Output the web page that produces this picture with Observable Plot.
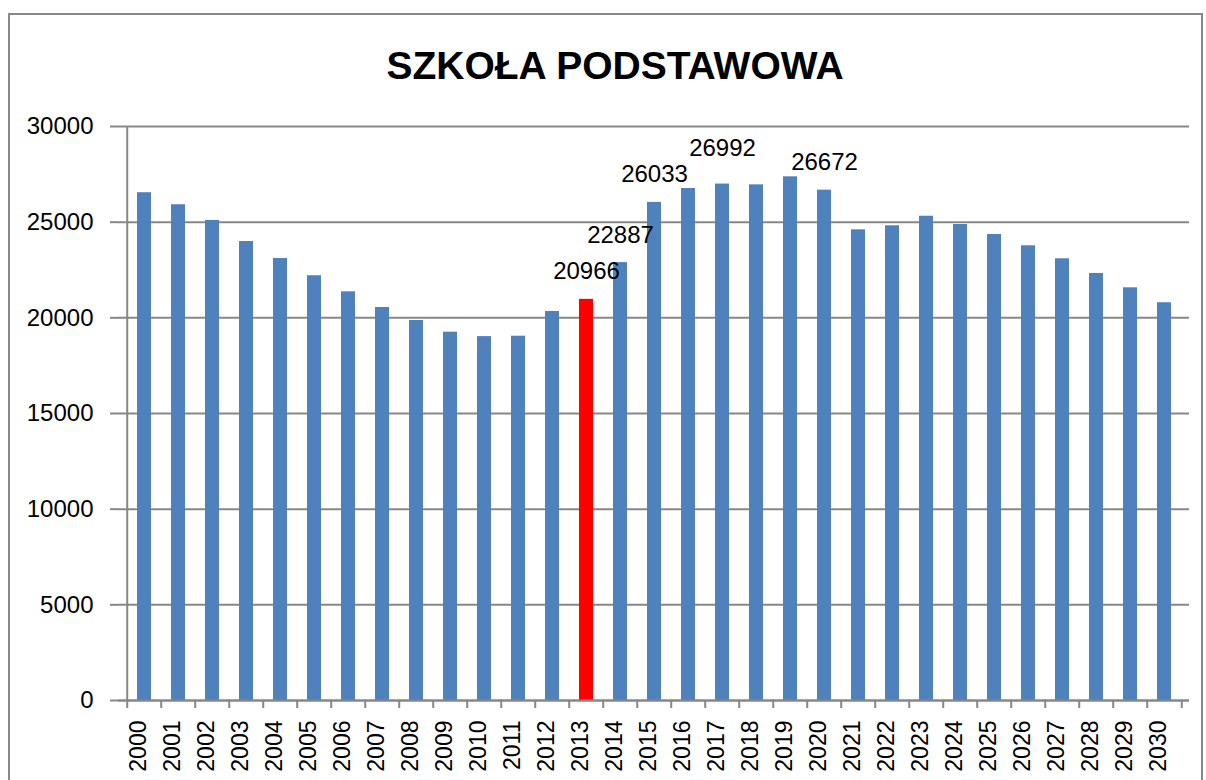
<!DOCTYPE html>
<html><head><meta charset="utf-8">
<script src="https://cdn.jsdelivr.net/npm/d3@7"></script>
<script src="https://cdn.jsdelivr.net/npm/@observablehq/plot@0.6"></script>
<style>
body{margin:0;background:#fff;width:1206px;height:780px;overflow:hidden;position:relative;font-family:"Liberation Sans",Arial,sans-serif}
#frame{position:absolute;left:8px;top:13px;width:1195px;height:900px;border:2px solid #898989;box-sizing:border-box}
#title{position:absolute;left:0;width:1230px;top:46px;text-align:center;font-weight:bold;font-size:39px;line-height:39px;color:#000}
#chart{position:absolute;left:0;top:100px}
</style></head><body>
<div id="frame"></div>
<div id="title">SZKOŁA PODSTAWOWA</div>
<div id="chart"></div>
<script>
const years = [2000,2001,2002,2003,2004,2005,2006,2007,2008,2009,2010,2011,2012,2013,2014,2015,2016,2017,2018,2019,2020,2021,2022,2023,2024,2025,2026,2027,2028,2029,2030];
const values = [26540,25910,25090,23990,23100,22200,21360,20540,19860,19250,19020,19040,20330,20966,22887,26033,26760,26992,26950,27370,26672,24600,24810,25310,24880,24355,23765,23085,22320,21570,20790];
const labelYears = [2013,2014,2015,2017,2020];
const highlightYear = 2013;
const yTicks = [0,5000,10000,15000,20000,25000,30000];

const W = 1206, H = 680, mL = 118, mR = 17, mT = 26, mB = 80;
const step = (W - mL - mR) / years.length;
const data = years.map((year, i) => ({year, value: values[i]}));
const labeled = data.filter(d => labelYears.includes(d.year));
const gridColor = "#878787";

const plot = Plot.plot({
  width: W, height: H,
  marginLeft: mL, marginRight: mR, marginTop: mT, marginBottom: mB,
  style: {fontFamily: "'Liberation Sans', Arial, sans-serif", background: "transparent", color: "#000"},
  x: {type: "band", domain: years, paddingInner: 0.6, paddingOuter: 0.3},
  y: {domain: [0, 30000]},
  color: {type: "identity"},
  marks: [
    Plot.gridY(yTicks, {stroke: gridColor, strokeOpacity: 1, strokeWidth: 2}),
    Plot.barY(data, {x: "year", y: "value", fill: d => d.year === highlightYear ? "#ff0000" : "#4f81bd"}),
    Plot.ruleX([years[0]], {dx: -step / 2, stroke: gridColor, strokeWidth: 2}),
    Plot.ruleX(years, {dx: -step / 2, insetTop: H - mT - mB, insetBottom: -8, stroke: gridColor, strokeWidth: 2}),
    Plot.ruleX([years[years.length - 1]], {dx: step / 2, insetTop: H - mT - mB, insetBottom: -8, stroke: gridColor, strokeWidth: 2}),
    Plot.ruleY([0], {stroke: gridColor, strokeWidth: 2}),
    Plot.axisY({ticks: yTicks, tickSize: 8, tickPadding: 17, fontSize: 24, tickFormat: d => String(d), stroke: gridColor, strokeWidth: 2, label: null}),
    Plot.axisX({tickSize: 0, tickRotate: -90, tickPadding: 20, fontSize: 23, dx: -6, tickFormat: d => String(d), label: null}),
    Plot.text(labeled.filter(d => d.year !== 2017), {x: "year", y: "value", text: d => String(d.value), lineAnchor: "bottom", dy: -20, fontSize: 24, fill: "#000"}),
    Plot.text(labeled.filter(d => d.year === 2017), {x: "year", y: "value", text: d => String(d.value), lineAnchor: "bottom", dy: -28, fontSize: 24, fill: "#000"})
  ]
});
document.getElementById("chart").appendChild(plot);
</script></body></html>
